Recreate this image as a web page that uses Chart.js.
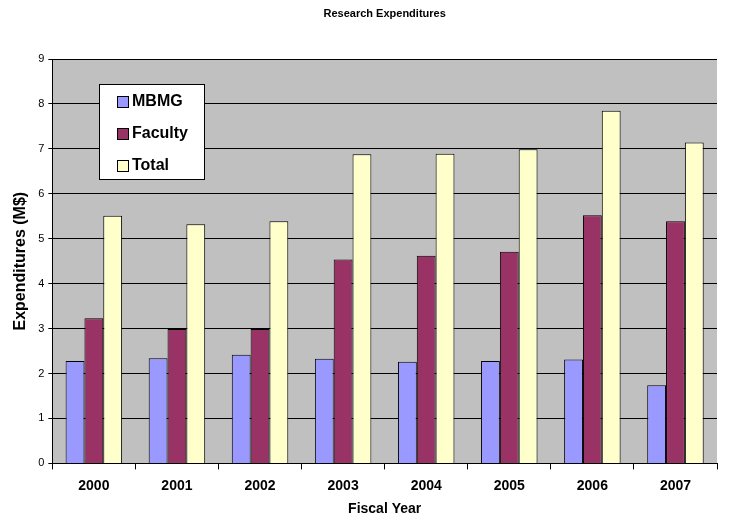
<!DOCTYPE html>
<html>
<head>
<meta charset="utf-8">
<script src="https://cdn.jsdelivr.net/npm/chart.js@4/dist/chart.umd.min.js"></script>
<style>
  html, body { margin: 0; padding: 0; background: #fff; }
  #wrap { width: 731px; height: 524px; }
</style>
</head>
<body>
<div id="wrap"><canvas id="chart_research" width="731" height="524"></canvas></div>
<script>
// values (M$)
var years = ['2000', '2001', '2002', '2003', '2004', '2005', '2006', '2007'];
var mbmg = [2.28, 2.34, 2.42, 2.33, 2.26, 2.28, 2.31, 1.74];
var faculty = [3.23, 2.99, 2.99, 4.54, 4.62, 4.71, 5.52, 5.39];
var total = [5.51, 5.32, 5.39, 6.88, 6.89, 6.99, 7.85, 7.14];
var yTicks = [0, 1, 2, 3, 4, 5, 6, 7, 8, 9];

var FONT = 'Arial, "Liberation Sans", sans-serif';

var chart_research = new Chart(document.getElementById('chart_research'), {
    type: 'bar',
    data: {
        labels: years,
        datasets: [
            { label: 'MBMG', data: mbmg, backgroundColor: '#9999FF', borderColor: '#000', borderWidth: 1 },
            { label: 'Faculty', data: faculty, backgroundColor: '#993366', borderColor: '#000', borderWidth: 1 },
            { label: 'Total', data: total, backgroundColor: '#FFFFCC', borderColor: '#000', borderWidth: 1 }
        ]
    },
    options: {
        animation: false,
        responsive: false,
        maintainAspectRatio: false,
        layout: { padding: { top: 59, right: 14, bottom: 6, left: 11 } },
        datasets: { bar: { categoryPercentage: 0.68, barPercentage: 1.0 } },
        plugins: {
            legend: { display: false },
            title: { display: false },
            tooltip: { enabled: false }
        },
        scales: {
            x: {
                grid: { drawOnChartArea: false, drawTicks: true, tickLength: 6, color: '#000', offset: true },
                border: { color: '#000', width: 1 },
                ticks: { color: '#000', font: { family: FONT, size: 14, weight: 'bold' }, padding: 8 },
                title: { display: true, text: 'Fiscal Year', color: '#000', font: { family: FONT, size: 14, weight: 'bold' }, padding: { top: -1, bottom: 0 } }
            },
            y: {
                min: 0,
                max: 9,
                afterBuildTicks: function(axis) {
                    axis.ticks = yTicks.map(function(v) { return { value: v }; });
                },
                grid: { color: '#000', lineWidth: 1, drawTicks: true, tickLength: 4 },
                border: { color: '#000', width: 1 },
                ticks: { color: '#000', font: { family: FONT, size: 11 }, padding: 4 },
                title: { display: true, text: 'Expenditures (M$)', color: '#000', font: { family: FONT, size: 16, weight: 'bold' }, padding: { top: 0, bottom: 4 } }
            }
        }
    },
    plugins: [{
        id: 'plotBackgroundAndLegend',
        beforeDraw: function(chart) {
            var ctx = chart.ctx;
            var a = chart.chartArea;
            ctx.save();
            ctx.fillStyle = '#fff';
            ctx.fillRect(0, 0, chart.width, chart.height);
            ctx.fillStyle = '#C0C0C0';
            ctx.fillRect(a.left, a.top, a.right - a.left, a.bottom - a.top);
            ctx.restore();
        },
        afterDraw: function(chart) {
            var ctx = chart.ctx;
            var a = chart.chartArea;
            ctx.save();
            // title, centred over the plot area
            ctx.fillStyle = '#000';
            ctx.font = 'bold 11px ' + FONT;
            ctx.textAlign = 'center';
            ctx.textBaseline = 'middle';
            ctx.fillText('Research Expenditures', (a.left + a.right) / 2, 14);
            // legend box inside the plot
            var bx = Math.round(a.left + 47), by = Math.round(a.top + 25), bw = 105, bh = 95;
            ctx.fillStyle = '#fff';
            ctx.fillRect(bx, by, bw, bh);
            ctx.strokeStyle = '#000';
            ctx.lineWidth = 1;
            ctx.strokeRect(bx + 0.5, by + 0.5, bw, bh);
            ctx.font = 'bold 16px ' + FONT;
            ctx.textAlign = 'left';
            chart.data.datasets.forEach(function(ds, i) {
                var cy = by + 17 + i * 32;
                ctx.fillStyle = ds.backgroundColor;
                ctx.fillRect(bx + 18, cy - 5, 11, 11);
                ctx.strokeRect(bx + 18.5, cy - 4.5, 11, 11);
                ctx.fillStyle = '#000';
                ctx.fillText(ds.label, bx + 33, cy + 1);
            });
            ctx.restore();
        }
    }]
});
</script>
</body>
</html>
